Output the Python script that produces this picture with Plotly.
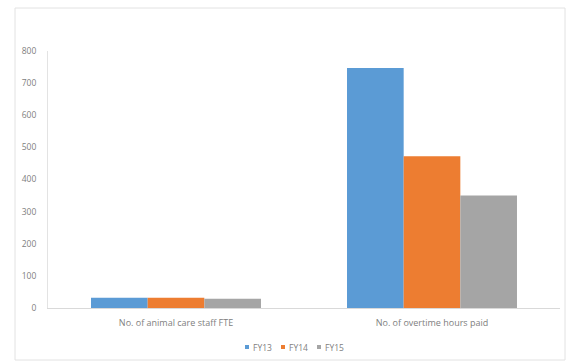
import plotly.graph_objects as go

categories = ["No. of animal care staff FTE", "No. of overtime hours paid"]
series_names = ["FY13", "FY14", "FY15"]
fy13 = [32, 747]
fy14 = [32, 472]
fy15 = [29, 350]
colors = ["#5B9BD5", "#ED7D31", "#A5A5A5"]
y_ticks = [0, 100, 200, 300, 400, 500, 600, 700, 800]

fig = go.Figure()
for name, vals, c in zip(series_names, [fy13, fy14, fy15], colors):
    fig.add_trace(go.Bar(x=categories, y=vals, name=name, showlegend=False,
                         marker=dict(color=c, line=dict(width=0))))

W, H = 570, 362
L, R, T, B = 48, 10, 51, 54
pw, ph = W - L - R, H - T - B
TEXT = "#808080"
FONT = "Open Sans"

def px_x(x):
    return (x - L) / pw

def px_y(y):
    return (H - B - y) / ph

shapes = [dict(type="rect", xref="paper", yref="paper",
               x0=px_x(15), x1=px_x(565), y0=px_y(360), y1=px_y(8),
               line=dict(color="#e2e2e2", width=1), layer="below")]
annotations = []
# compact legend, Excel style: small square followed by label
leg_x0, leg_step, leg_y, sq = 247, 36, 347, 4
for i, (name, c) in enumerate(zip(series_names, colors)):
    cx = leg_x0 + i * leg_step
    shapes.append(dict(type="rect", xref="paper", yref="paper",
                       x0=px_x(cx - sq / 2), x1=px_x(cx + sq / 2),
                       y0=px_y(leg_y + sq / 2), y1=px_y(leg_y - sq / 2),
                       fillcolor=c, line=dict(width=0)))
    annotations.append(dict(xref="paper", yref="paper", x=px_x(cx + 4), y=px_y(leg_y),
                            xanchor="left", yanchor="middle", text=name, showarrow=False,
                            font=dict(family=FONT, size=8.5, color=TEXT)))

fig.update_layout(
    width=W, height=H,
    margin=dict(l=L, r=R, t=T, b=B),
    paper_bgcolor="white", plot_bgcolor="white",
    barmode="group", bargap=0.336, bargroupgap=0,
    font=dict(family=FONT, size=9, color=TEXT),
    showlegend=False,
    xaxis=dict(showline=True, linecolor="#d9d9d9", linewidth=1, ticks="", showgrid=False,
               ticklabelstandoff=6, tickfont=dict(size=9, color=TEXT)),
    yaxis=dict(range=[0, 800], tickvals=y_ticks, showgrid=False, showline=True,
               linecolor="#e3e3e3", linewidth=1, ticks="", zeroline=False,
               ticklabelstandoff=9, tickfont=dict(size=8.5, color=TEXT)),
    shapes=shapes,
    annotations=annotations,
)

fig.write_html("out.html")
